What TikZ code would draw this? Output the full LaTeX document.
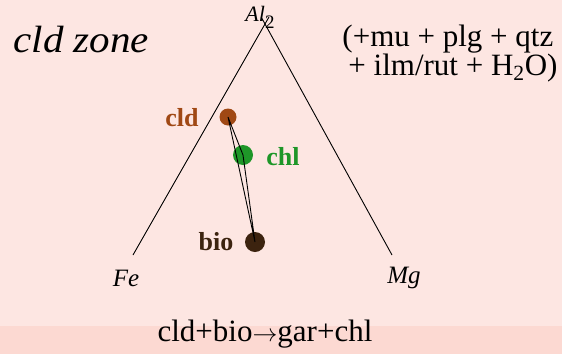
\documentclass[tikz,border=0pt]{standalone}
\usepackage{fontspec}
\setmainfont{Liberation Serif}
\newfontfamily\tnr{Liberation Serif}
\usetikzlibrary{calc,positioning}
\definecolor{bgpink}{RGB}{253,230,226}
\definecolor{bandpink}{RGB}{252,217,210}
\definecolor{cldcol}{RGB}{160,72,20}
\definecolor{chlcol}{RGB}{30,150,40}
\definecolor{biocol}{RGB}{60,35,15}
\newcommand{\fs}[1]{\fontsize{#1}{#1}\selectfont}

\begin{document}
\begin{tikzpicture}[x=1pt,y=-1pt,line width=0.9pt,
  phase/.style={circle,inner sep=0pt,minimum size=#1},
  lbl/.style={font=\tnr\fs{26}\bfseries},
  corner/.style={font=\tnr\fs{25}\itshape},
  plain/.style={anchor=base west,inner sep=0pt,font=\tnr\fs{#1}}]
  \fill[bgpink] (0,0) rectangle (562,354);
  \fill[bandpink] (0,326) rectangle (562,354);
  \useasboundingbox (0,0) rectangle (562,354);
  \coordinate (al) at (265,24);
  \coordinate (fe) at (133,255);
  \coordinate (mg) at (392,255);
  \draw (fe) -- ($(fe)!1.03!(al)$);
  \draw (mg) -- ($(mg)!1.03!(al)$);
  \node[plain=22] (alname) at (245,21) {{\itshape Al}\raisebox{-7pt}{\fs{19}2}};
  \node[corner] (fename) at (126,278) {Fe};
  \node[corner] (mgname) at (404,278) {Mg};
  \node[phase=17pt,fill=cldcol] (cld) at (228,117) {};
  \node[phase=20pt,fill=chlcol] (chl) at (243,155) {};
  \node[phase=20pt,fill=biocol] (bio) at (255,242) {};
  \draw (cld.center) -- (bio.center) -- (chl.center) -- cycle;
  \node[lbl,text=cldcol] (cldlbl) at (182,118) {cld};
  \node[lbl,text=chlcol] (chllbl) at (283,157) {chl};
  \node[lbl,text=biocol] (biolbl) at (216,242) {bio};
  \node[plain=38] (zone) at (13,52) {\scalebox{1.08}[1]{\itshape cld zone}};
  \node[plain=31] (extra1) at (342,46) {(+mu + plg + qtz};
  \node[plain=31] (extra2) at (348,75) {+ ilm/rut + H\textsubscript{2}O)};
  \node[plain=31,anchor=base] (rxn) at (265,341) {cld+bio$\rightarrow$gar+chl};
\end{tikzpicture}
\end{document}
